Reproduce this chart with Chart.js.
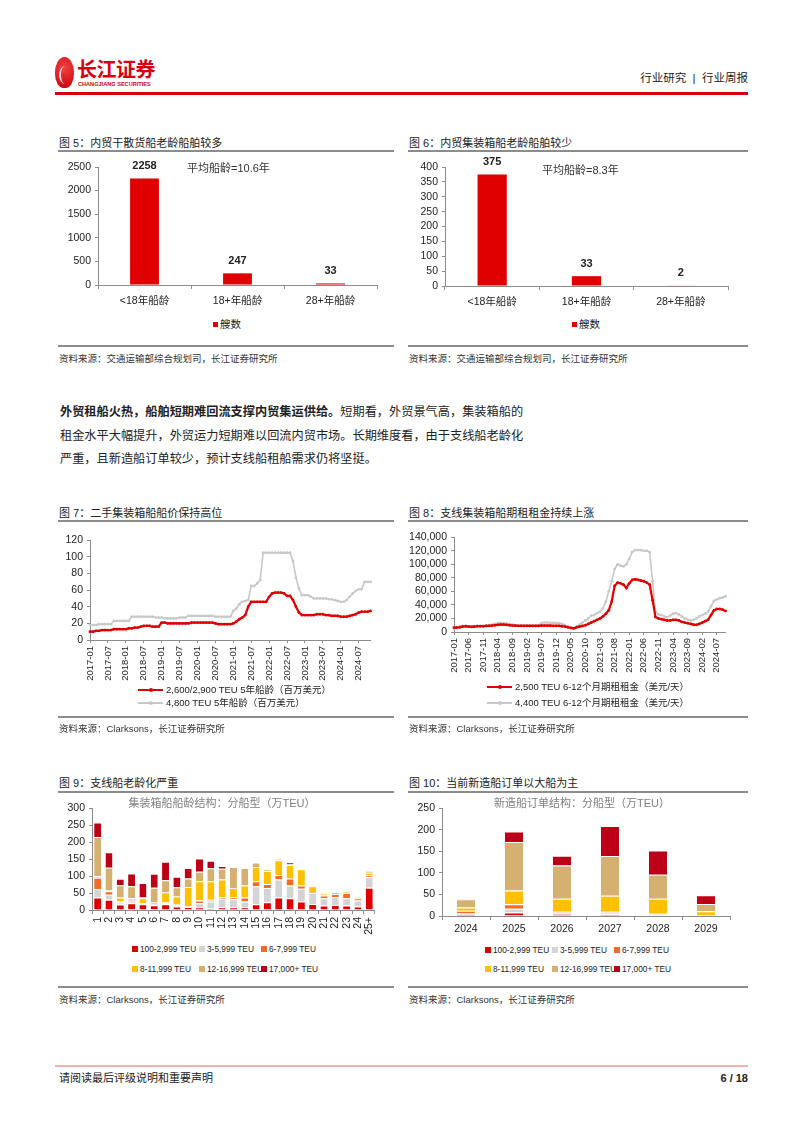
<!DOCTYPE html>
<html>
<head>
<meta charset="utf-8">
<script src="https://cdn.jsdelivr.net/npm/chart.js@4.4.1/dist/chart.umd.min.js"></script>
<style>
body { margin: 0; width: 802px; height: 1133px; background: #fff; position: relative; overflow: hidden;
	font-family: "Liberation Sans", "Noto Sans CJK SC", sans-serif; color: #222; }
.abs { position: absolute; white-space: nowrap; }
.title { font-size: 11px; line-height: 14px; color: #222; }
.rule { position: absolute; height: 1.5px; background: #8c8c8c; }
.src { font-size: 9.5px; line-height: 12px; color: #333; }
.note { font-size: 11px; line-height: 14px; color: #333; }
.inner { font-size: 11px; line-height: 14px; color: #808080; transform: translateX(-50%); }
.leg { font-size: 9.5px; line-height: 12px; color: #222; }
.leg.small { font-size: 8.3px; line-height: 12px; }
.sq { position: absolute; width: 6px; height: 6px; }
.para { font-size: 12.2px; line-height: 23.5px; color: #222; }
canvas { position: absolute; }
</style>
</head>
<body>

<!-- header -->
<div class="abs" style="left:55px;top:57px;width:19px;height:31px;border-radius:50% 50% 45% 45%;background:radial-gradient(circle at 50% 35%,#f04040,#c8000a);"></div>
<div class="abs" style="left:59px;top:66px;width:10px;height:18px;border-left:2px solid #fff;border-radius:50%;opacity:0.8;"></div>
<div class="abs" style="left:77px;top:57px;font-size:20px;line-height:24px;font-weight:bold;color:#d7000f;font-family:'Noto Sans CJK SC';letter-spacing:-0.5px;">长江证券</div>
<div class="abs" style="left:78px;top:81px;font-size:5.6px;line-height:7px;font-weight:bold;color:#d7000f;">CHANGJIANG SECURITIES</div>
<div class="abs" style="right:54px;top:71px;font-size:11.5px;line-height:14px;color:#222;">行业研究 &nbsp;|&nbsp; 行业周报</div>
<div class="abs" style="left:55px;top:92px;width:693px;height:2.5px;background:#d7000f;"></div>

<!-- figure 5 / 6 -->
<div class="abs title" style="left:59px;top:136px;">图 5：内贸干散货船老龄船舶较多</div>
<div class="rule" style="left:58px;top:150px;width:336px;"></div>
<canvas id="fig5" width="330" height="160" style="left:55px;top:155px;"></canvas>
<div class="abs note" style="left:187px;top:161px;">平均船龄=10.6年</div>
<div class="sq" style="left:213px;top:322px;width:5px;height:5px;background:#e00000;"></div>
<div class="abs leg" style="left:220px;top:318px;font-size:10.5px;">艘数</div>
<div class="rule" style="left:58px;top:345px;width:336px;"></div>
<div class="abs src" style="left:59px;top:353px;">资料来源：交通运输部综合规划司，长江证券研究所</div>

<div class="abs title" style="left:409px;top:136px;">图 6：内贸集装箱船老龄船舶较少</div>
<div class="rule" style="left:408px;top:150px;width:340px;"></div>
<canvas id="fig6" width="340" height="160" style="left:400px;top:155px;"></canvas>
<div class="abs note" style="left:542px;top:163px;">平均船龄=8.3年</div>
<div class="sq" style="left:572px;top:322px;width:5px;height:5px;background:#e00000;"></div>
<div class="abs leg" style="left:579px;top:318px;font-size:10.5px;">艘数</div>
<div class="rule" style="left:408px;top:345px;width:340px;"></div>
<div class="abs src" style="left:409px;top:353px;">资料来源：交通运输部综合规划司，长江证券研究所</div>

<!-- paragraph -->
<div class="abs para" style="left:60px;top:401px;">
<b>外贸租船火热，船舶短期难回流支撑内贸集运供给。</b>短期看，外贸景气高，集装箱船的<br>
租金水平大幅提升，外贸运力短期难以回流内贸市场。长期维度看，由于支线船老龄化<br>
严重，且新造船订单较少，预计支线船租船需求仍将坚挺。
</div>

<!-- figure 7 / 8 -->
<div class="abs title" style="left:59px;top:506px;">图 7：二手集装箱船船价保持高位</div>
<div class="rule" style="left:58px;top:520px;width:336px;"></div>
<canvas id="fig7" width="330" height="155" style="left:55px;top:530px;"></canvas>
<div id="leg7"></div>
<div class="rule" style="left:58px;top:716px;width:336px;"></div>
<div class="abs src" style="left:59px;top:723px;">资料来源：Clarksons，长江证券研究所</div>

<div class="abs title" style="left:409px;top:506px;">图 8：支线集装箱船期租租金持续上涨</div>
<div class="rule" style="left:408px;top:520px;width:340px;"></div>
<canvas id="fig8" width="340" height="150" style="left:400px;top:527px;"></canvas>
<div id="leg8"></div>
<div class="rule" style="left:408px;top:716px;width:340px;"></div>
<div class="abs src" style="left:409px;top:723px;">资料来源：Clarksons，长江证券研究所</div>

<!-- figure 9 / 10 -->
<div class="abs title" style="left:59px;top:776px;">图 9：支线船老龄化严重</div>
<div class="rule" style="left:58px;top:791px;width:336px;"></div>
<canvas id="fig9" width="330" height="140" style="left:55px;top:798px;"></canvas>
<div class="abs inner" style="left:222px;top:796px;">集装箱船船龄结构：分船型（万TEU）</div>
<div id="leg9"></div>
<div class="rule" style="left:58px;top:986px;width:336px;"></div>
<div class="abs src" style="left:59px;top:994px;">资料来源：Clarksons，长江证券研究所</div>

<div class="abs title" style="left:409px;top:776px;">图 10：当前新造船订单以大船为主</div>
<div class="rule" style="left:408px;top:791px;width:340px;"></div>
<canvas id="fig10" width="340" height="140" style="left:400px;top:798px;"></canvas>
<div class="abs inner" style="left:582px;top:796px;">新造船订单结构：分船型（万TEU）</div>
<div id="leg10"></div>
<div class="rule" style="left:408px;top:986px;width:340px;"></div>
<div class="abs src" style="left:409px;top:994px;">资料来源：Clarksons，长江证券研究所</div>

<!-- footer -->
<div class="abs" style="left:55px;top:1065px;width:693px;height:2px;background:#f2b0b0;"></div>
<div class="abs" style="left:59px;top:1071px;font-size:11px;line-height:14px;">请阅读最后评级说明和重要声明</div>
<div class="abs" style="right:54px;top:1071px;font-size:11px;line-height:14px;font-weight:bold;">6 / 18</div>

<script>
const FONT = '"Liberation Sans", "Noto Sans CJK SC", sans-serif';
const AXIS_COLOR = '#8c8c8c';
const RED = 'rgb(224, 0, 0)';
const GREY = 'rgb(200, 200, 200)';

// Figure 5 / 6: ship age counts.
const ageLabels = ['<18年船龄', '18+年船龄', '28+年船龄'];
const bulkCounts = [2258, 247, 33];
const boxCounts = [375, 33, 2];

// Figure 7: second-hand prices, monthly 2017-01 .. 2024-11 (million USD).
const price2600 = [
	10, 10, 11, 11, 12, 12, 12, 12, 13, 13, 13, 13,
	13, 14, 14, 15, 15, 16, 17, 17, 17, 16, 16, 16,
	21, 21, 20, 20, 20, 20, 20, 20, 20, 20, 21, 21,
	21, 21, 21, 21, 21, 21, 20, 19, 19, 19, 19, 19,
	20, 22, 25, 27, 30, 40, 46, 46, 46, 46, 46, 46,
	52, 56, 57, 57, 57, 56, 53, 53, 48, 40, 33, 30,
	30, 30, 30, 30, 31, 31, 31, 30, 30, 29, 29, 29,
	28, 28, 28, 29, 30, 31, 33, 34, 34, 34, 35
];
const price4800 = [
	18, 18, 18, 19, 19, 19, 19, 19, 23, 23, 23, 23,
	23, 23, 28, 28, 28, 28, 28, 28, 28, 28, 27, 27,
	27, 26, 26, 26, 26, 26, 27, 27, 27, 29, 29, 29,
	29, 29, 29, 29, 29, 29, 28, 28, 28, 28, 28, 28,
	35, 38, 43, 46, 47, 48, 65, 65, 68, 72, 105, 105,
	105, 105, 105, 105, 105, 105, 105, 105, 95, 75, 62, 54,
	54, 54, 52, 50, 50, 50, 50, 50, 49, 49, 48, 47,
	46, 46, 48, 52, 56, 59, 61, 61, 70, 70, 70
];

// Figure 8: 6-12 month charter rates, monthly 2017-01 .. 2024-10 (USD/day).
const rate2500 = [
	6500, 6500, 7000, 8000, 8500, 8000, 7500, 8000, 8500, 8500, 8500, 9000,
	9000, 9500, 10000, 10500, 11000, 11000, 10500, 10000, 9500, 9500, 9000, 9000,
	9000, 9000, 9000, 9000, 9000, 9000, 9500, 9500, 9500, 9500, 9000, 9000,
	9000, 8500, 8000, 7000, 6000, 5500, 7000, 8000, 9000, 10000, 12000, 14000,
	16000, 18000, 20000, 23000, 27000, 32000, 45000, 68000, 73000, 72000, 70000, 65000,
	72000, 77000, 78000, 77000, 76000, 75000, 73000, 70000, 47000, 22000, 20000, 19000,
	18000, 17000, 17000, 18000, 18000, 17000, 15000, 14000, 13000, 12000, 11000, 10500,
	12000, 14000, 16000, 18000, 25000, 32000, 34000, 34000, 33000, 31000
];
const rate4400 = [
	5000, 6000, 8000, 9000, 9000, 8000, 8000, 8500, 9000, 9000, 9000, 9500,
	10000, 11000, 12000, 13000, 13500, 13000, 12500, 12000, 11000, 10000, 9500, 9500,
	9500, 9500, 9500, 9500, 9500, 10000, 13000, 14000, 14000, 13500, 13500, 13000,
	13000, 12000, 10000, 8000, 6000, 5000, 8000, 11000, 14000, 17000, 20000, 24000,
	25000, 28000, 30000, 35000, 45000, 60000, 75000, 93000, 100000, 98000, 97000, 100000,
	108000, 118000, 121000, 121000, 121000, 120000, 120000, 118000, 75000, 30000, 26000, 25000,
	23000, 22000, 24000, 27000, 28000, 26000, 23000, 20000, 18000, 17000, 18000, 20000,
	23000, 25000, 27000, 30000, 38000, 46000, 48000, 50000, 51000, 53000
];

// Figure 9 / 10: capacity by size class (10k TEU).
const sizeLabels = ['100-2,999 TEU', '3-5,999 TEU', '6-7,999 TEU', '8-11,999 TEU', '12-16,999 TEU', '17,000+ TEU'];
const sizeColors = ['rgb(222, 0, 0)', 'rgb(212, 212, 212)', 'rgb(240, 108, 40)', 'rgb(255, 192, 0)', 'rgb(214, 176, 112)', 'rgb(188, 0, 24)'];

const ageGroups = ['1', '2', '3', '4', '5', '6', '7', '8', '9', '10', '11', '12', '13', '14', '15', '16', '17', '18', '19', '20', '21', '22', '23', '24', '25+'];
const fleetSmall = [37, 30, 16, 20, 17, 14, 17, 10, 9, 8, 5, 8, 8, 8, 17, 23, 37, 35, 25, 18, 13, 15, 13, 10, 66];
const fleetMid = [25, 15, 6, 5, 3, 4, 3, 4, 1, 12, 20, 25, 24, 17, 53, 42, 53, 37, 38, 32, 22, 23, 22, 18, 31];
const fleetLarge = [33, 10, 3, 5, 1, 2, 2, 3, 2, 8, 5, 5, 5, 12, 15, 12, 13, 21, 9, 3, 8, 9, 15, 7, 5];
const fleetNpx = [5, 3, 12, 5, 14, 3, 30, 23, 56, 57, 55, 52, 28, 35, 42, 38, 44, 40, 48, 17, 5, 6, 3, 3, 8];
const fleetNeo = [115, 67, 36, 35, 2, 43, 36, 27, 25, 28, 38, 32, 62, 52, 13, 5, 1, 2, 0, 0, 0, 0, 0, 0, 5];
const fleetUlcv = [43, 45, 19, 38, 43, 41, 54, 31, 31, 39, 22, 8, 0, 0, 0, 0, 2, 6, 0, 0, 0, 0, 0, 0, 0];

const orderYears = ['2024', '2025', '2026', '2027', '2028', '2029'];
const orderSmall = [3, 8, 5, 4, 0, 0];
const orderMid = [3, 9, 3, 4, 5, 1];
const orderLarge = [6, 10, 2, 2, 0, 0];
const orderNpx = [8, 32, 30, 37, 35, 10];
const orderNeo = [19, 113, 77, 92, 56, 17];
const orderUlcv = [1, 24, 23, 70, 56, 20];

function monthLabels(startYear, count) {
	const out = [];
	for (let i = 0; i < count; i++) {
		const y = startYear + Math.floor(i / 12);
		const m = (i % 12) + 1;
		out.push(`${y}-${String(m).padStart(2, '0')}`);
	}
	return out;
}

function yAxis(max, step, width, fmt) {
	return {
		min: 0,
		max: max,
		ticks: {
			stepSize: step, autoSkip: false, color: '#222',
			font: { family: FONT, size: 10.5 }, padding: 4, callback: fmt
		},
		grid: { drawOnChartArea: false, tickLength: 3, color: AXIS_COLOR },
		border: { color: AXIS_COLOR },
		afterFit: s => { s.width = width; }
	};
}

function xAxis(height, extra) {
	return Object.assign({
		ticks: { color: '#222', font: { family: FONT, size: 10 }, padding: 3, maxRotation: 0, autoSkip: false },
		grid: { drawOnChartArea: false, tickLength: 4, color: AXIS_COLOR },
		border: { color: AXIS_COLOR },
		afterFit: s => { s.height = height; }
	}, extra || {});
}

// Bold value above each bar.
const valueLabels = {
	id: 'valueLabels',
	afterDatasetsDraw(chart) {
		const ctx = chart.ctx;
		const meta = chart.getDatasetMeta(0);
		ctx.save();
		ctx.font = 'bold 11px ' + FONT;
		ctx.fillStyle = '#222';
		ctx.textAlign = 'center';
		ctx.textBaseline = 'bottom';
		meta.data.forEach((bar, i) => {
			ctx.fillText(chart.data.datasets[0].data[i], bar.x, bar.y - 7);
		});
		ctx.restore();
	}
};

function createAgeChart(id, data, max, step, pad, yWidth, xHeight) {
	return new Chart(document.getElementById(id), {
		type: 'bar',
		data: {
			labels: ageLabels,
			datasets: [{ label: '艘数', data: data, backgroundColor: RED, barPercentage: 0.31, categoryPercentage: 1 }]
		},
		options: {
			responsive: false,
			animation: false,
			layout: { padding: pad },
			scales: {
				x: xAxis(xHeight, { ticks: { color: '#222', font: { family: FONT, size: 10.5 }, padding: 6, maxRotation: 0 } }),
				y: yAxis(max, step, yWidth)
			},
			plugins: { legend: { display: false }, tooltip: { enabled: false } }
		},
		plugins: [valueLabels]
	});
}

function createLineChart(id, labels, series, names, every, max, step, pad, yWidth, xHeight, fmt) {
	const colors = [RED, GREY];
	return new Chart(document.getElementById(id), {
		type: 'line',
		data: {
			labels: labels,
			datasets: series.map((s, i) => ({
				label: names[i],
				data: s,
				borderColor: colors[i],
				backgroundColor: colors[i],
				borderWidth: i === 0 ? 2.2 : 1.6,
				pointRadius: 1.4,
				pointBorderWidth: 0,
				tension: 0,
				order: i === 0 ? 0 : 1
			}))
		},
		options: {
			responsive: false,
			animation: false,
			layout: { padding: pad },
			scales: {
				x: xAxis(xHeight, {
					ticks: {
						color: '#222', font: { family: FONT, size: 9.5 }, padding: 3,
						autoSkip: false, minRotation: 90, maxRotation: 90,
						callback: (v, i) => (i % every === 0 ? labels[i] : '')
					},
					grid: {
						drawOnChartArea: false, tickLength: 3,
						color: c => (c.index % every === 0 ? AXIS_COLOR : 'rgba(0,0,0,0)')
					}
				}),
				y: yAxis(max, step, yWidth, fmt)
			},
			plugins: { legend: { display: false }, tooltip: { enabled: false } }
		}
	});
}

function createStackChart(id, labels, series, max, step, pad, yWidth, xHeight, barPct, rotate) {
	return new Chart(document.getElementById(id), {
		type: 'bar',
		data: {
			labels: labels,
			datasets: series.map((s, i) => ({
				label: sizeLabels[i],
				data: s,
				backgroundColor: sizeColors[i],
				borderColor: '#fff',
				borderWidth: { top: 1 },
				borderSkipped: false,
				barPercentage: barPct,
				categoryPercentage: 1
			}))
		},
		options: {
			responsive: false,
			animation: false,
			layout: { padding: pad },
			scales: {
				x: xAxis(xHeight, {
					stacked: true,
					ticks: {
						color: '#222', font: { family: FONT, size: 10.5 }, padding: 3, autoSkip: false,
						minRotation: rotate ? 90 : 0, maxRotation: rotate ? 90 : 0
					}
				}),
				y: Object.assign(yAxis(max, step, yWidth), { stacked: true })
			},
			plugins: { legend: { display: false }, tooltip: { enabled: false } }
		}
	});
}

// HTML legends.
function lineLegend(id, names, left, tops) {
	const colors = [RED, GREY];
	let html = '';
	names.forEach((n, i) => {
		const w = i === 0 ? 2.2 : 1.6;
		html += `<div class="abs" style="left:${left}px;top:${tops[i] - w / 2}px;width:25px;height:${w}px;background:${colors[i]};"></div>`;
		html += `<div class="abs" style="left:${left + 10.5}px;top:${tops[i] - 2}px;width:4px;height:4px;border-radius:50%;background:${colors[i]};"></div>`;
		html += `<div class="abs leg" style="left:${left + 28}px;top:${tops[i] - 6.5}px;">${n}</div>`;
	});
	document.getElementById(id).innerHTML = html;
}

function sizeLegend(id, cols, tops) {
	let html = '';
	sizeLabels.forEach((n, i) => {
		const x = cols[i % 3];
		const y = tops[Math.floor(i / 3)];
		html += `<div class="sq" style="left:${x}px;top:${y - 3}px;background:${sizeColors[i]};"></div>`;
		html += `<div class="abs leg small" style="left:${x + 8}px;top:${y - 6.5}px;">${n}</div>`;
	});
	document.getElementById(id).innerHTML = html;
}

const commas = v => v.toLocaleString('en-US');

createAgeChart('fig5', bulkCounts, 2500, 500, { top: 12, right: 8 }, 43, 30);
createAgeChart('fig6', boxCounts, 400, 50, { top: 12, right: 12 }, 45, 29);

const names7 = ['2,600/2,900 TEU 5年船龄（百万美元）', '4,800 TEU 5年船龄（百万美元）'];
createLineChart('fig7', monthLabels(2017, price2600.length), [price2600, price4800], names7,
	6, 120, 20, { top: 9, right: 8 }, 35, 45);
lineLegend('leg7', names7, 138, [690, 703]);

const names8 = ['2,500 TEU 6-12个月期租租金（美元/天）', '4,400 TEU 6-12个月期租租金（美元/天）'];
createLineChart('fig8', monthLabels(2017, rate2500.length), [rate2500, rate4400], names8,
	5, 140000, 20000, { top: 9, right: 13 }, 54, 45, commas);
lineLegend('leg8', names8, 487, [687, 703]);

createStackChart('fig9', ageGroups, [fleetSmall, fleetMid, fleetLarge, fleetNpx, fleetNeo, fleetUlcv],
	300, 50, { top: 10, right: 7 }, 37, 28, 0.62, true);
sizeLegend('leg9', [132, 199, 261], [949, 969]);

createStackChart('fig10', orderYears, [orderSmall, orderMid, orderLarge, orderNpx, orderNeo, orderUlcv],
	250, 50, { top: 10, right: 10 }, 42, 22, 0.38, false);
sizeLegend('leg10', [485, 552, 614], [950, 969]);
</script>
</body>
</html>
